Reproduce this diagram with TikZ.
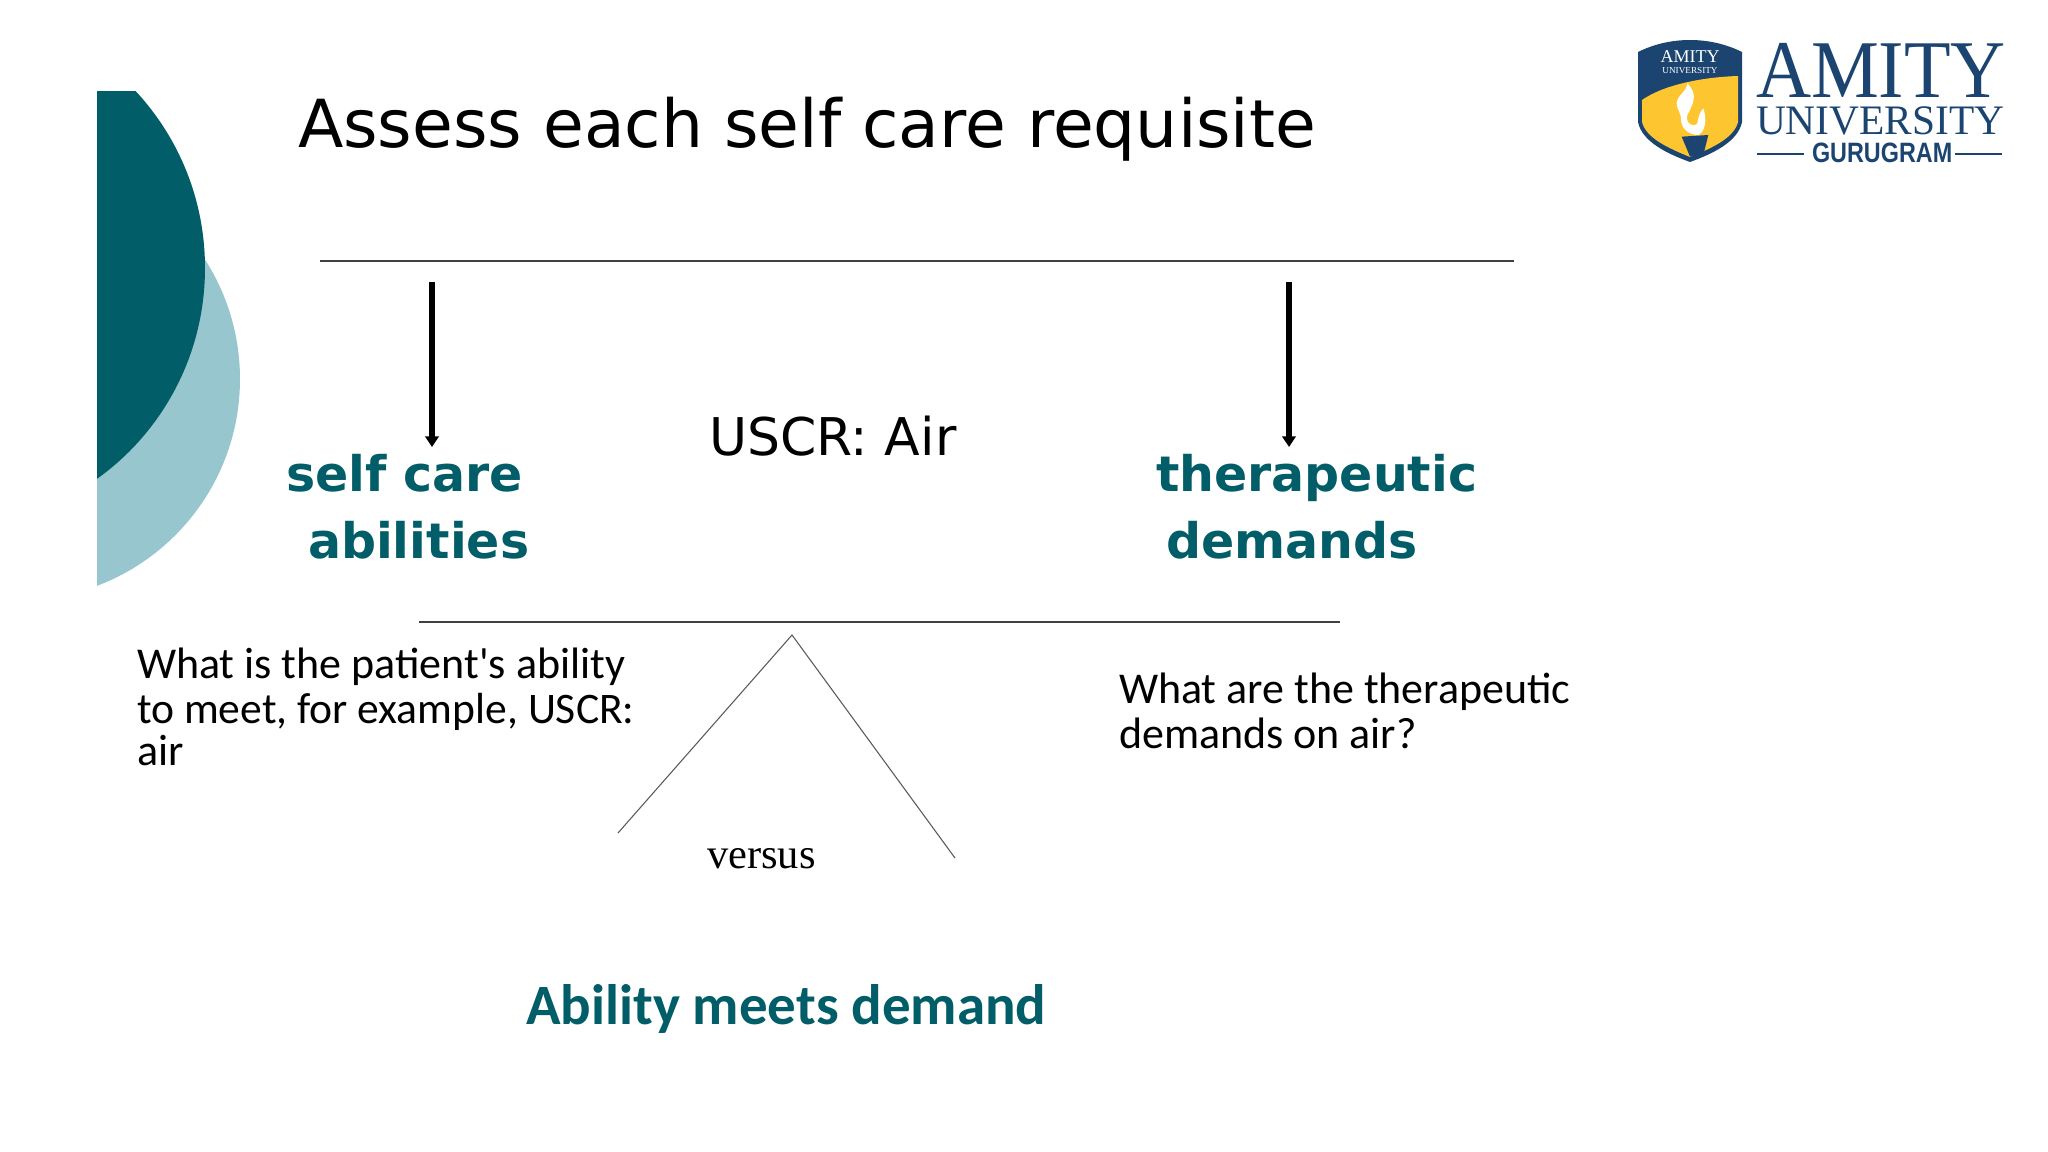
\documentclass[tikz,border=0pt]{standalone}
\usepackage{fontspec}
\usetikzlibrary{arrows.meta}
\setmainfont{DejaVu Sans}
\newfontfamily\hand{Carlito}
\newfontfamily\serifb{Liberation Serif}
\newfontfamily\condb{Liberation Sans}
\definecolor{tealdark}{HTML}{015D67}
\definecolor{teallight}{HTML}{98C6CE}
\definecolor{amnavy}{HTML}{1B4470}
\definecolor{amgold}{HTML}{FDC52F}
\newcommand{\px}[1]{\fontsize{\fpeval{#1*0.75}}{\fpeval{#1*0.9}}\selectfont}
\tikzset{
  lbl/.style={anchor=base west,inner sep=0pt,outer sep=0pt,text=#1},
  lbl/.default=black,
  rule/.style={draw=black!75,line width=1.6pt},
  thin rule/.style={draw=black!65,line width=0.8pt},
  downarrow/.style={draw=black,line width=4pt,-{Triangle[length=8pt,width=10pt]}},
}
\begin{document}
\begin{tikzpicture}[x=0.75pt,y=-0.75pt]
\useasboundingbox (0,0) rectangle (2048,1152);
% circles
\begin{scope}
\clip (97,92) rectangle (400,700);
\fill[teallight] (19,379) circle[radius=221];
\fill[tealdark] (-50,268) ellipse[x radius=255,y radius=258];
\end{scope}
% title
\node[lbl] (title) at (298,147) {\px{66.3}Assess each self care requisite};
% rules
\coordinate (r1a) at (320,261); \coordinate (r1b) at (1514,261);
\draw[rule] (r1a) -- (r1b);
\coordinate (r2a) at (419,622); \coordinate (r2b) at (1340,622);
\draw[rule] (r2a) -- (r2b);
% arrows
\coordinate (a1) at (432,282); \coordinate (a1e) at (432,447);
\coordinate (a2) at (1289,282); \coordinate (a2e) at (1289,447);
\draw[downarrow] (a1) -- (a1e);
\draw[downarrow] (a2) -- (a2e);
% labels
\node[lbl] (uscr) at (709,455) {\px{52}USCR: Air};
\node[lbl=tealdark] (sc) at (286,491) {\px{49}\bfseries self care};
\node[lbl=tealdark] (ab) at (308,558) {\px{49}\bfseries abilities};
\node[lbl=tealdark] (th) at (1156,491) {\px{49}\bfseries therapeutic};
\node[lbl=tealdark] (de) at (1166,558) {\px{49}\bfseries demands};
% triangle
\coordinate (apex) at (792,635); \coordinate (tl) at (618,833); \coordinate (tr) at (955,858);
\draw[thin rule] (tl) -- (apex) -- (tr);
\node[lbl] (vs) at (707,868) {\px{42.5}\serifb versus};
% hand text
\node[lbl] (l1) at (137,678) {\px{44}\hand What is the patient's ability};
\node[lbl] (l2) at (137,723) {\px{43.6}\hand to meet, for example, USCR:};
\node[lbl] (l3) at (137,765) {\px{44}\hand air};
\node[lbl] (r1) at (1119,703) {\px{44}\hand What are the therapeutic};
\node[lbl] (r2) at (1119,748) {\px{44}\hand demands on air?};
\node[lbl=tealdark] (am) at (526,1024) {\px{57}\hand\bfseries Ability meets demand};
% logo shield
\fill[amnavy] (1638,52) .. controls (1670,36) and (1710,36) .. (1742,52)
  -- (1742,122) .. controls (1738,142) and (1712,154) .. (1690,162)
  .. controls (1668,154) and (1642,142) .. (1638,122) -- cycle;
\fill[amgold] (1642,100) .. controls (1665,84) and (1705,77) .. (1738,76)
  -- (1738,122) .. controls (1734,138) and (1712,148) .. (1690,157)
  .. controls (1668,148) and (1646,138) .. (1642,122) -- cycle;
\begin{scope}[shift={(1600,20)},x=0.25pt,y=-0.25pt]
\fill[white] (262,190) .. controls (295,225) and (280,250) .. (262,285)
  .. controls (255,310) and (280,325) .. (292,310)
  .. controls (295,290) and (300,275) .. (310,265)
  .. controls (322,300) and (315,335) .. (295,345)
  .. controls (270,345) and (245,330) .. (243,300)
  .. controls (245,280) and (230,270) .. (230,250)
  .. controls (232,225) and (260,215) .. (262,190) -- cycle;
\fill[amnavy] (245,350) -- (325,345) -- (310,405) -- (270,410) -- cycle;
\end{scope}
\node[anchor=base,inner sep=0pt,text=white] (s1) at (1690,63) {\px{18}\serifb AMITY};
\node[anchor=base,inner sep=0pt,text=white] (s2) at (1690,74) {\px{9.2}\serifb UNIVERSITY};
% logo words
\node[lbl=amnavy] (w1) at (1756,98) {\px{82}\serifb\scalebox{0.93}[1]{AMITY}};
\node[lbl=amnavy] (w2) at (1756,135) {\px{42}\serifb\scalebox{0.985}[1]{UNIVERSITY}};
\node[lbl=amnavy] (w3) at (1812,163) {\px{28}\condb\bfseries\scalebox{0.835}[1]{GURUGRAM}};
\coordinate (g1) at (1757,154); \coordinate (g2) at (1804,154);
\coordinate (g3) at (1955,154); \coordinate (g4) at (2002,154);
\draw[amnavy,line width=1pt] (g1) -- (g2);
\draw[amnavy,line width=1pt] (g3) -- (g4);
\end{tikzpicture}
\end{document}
